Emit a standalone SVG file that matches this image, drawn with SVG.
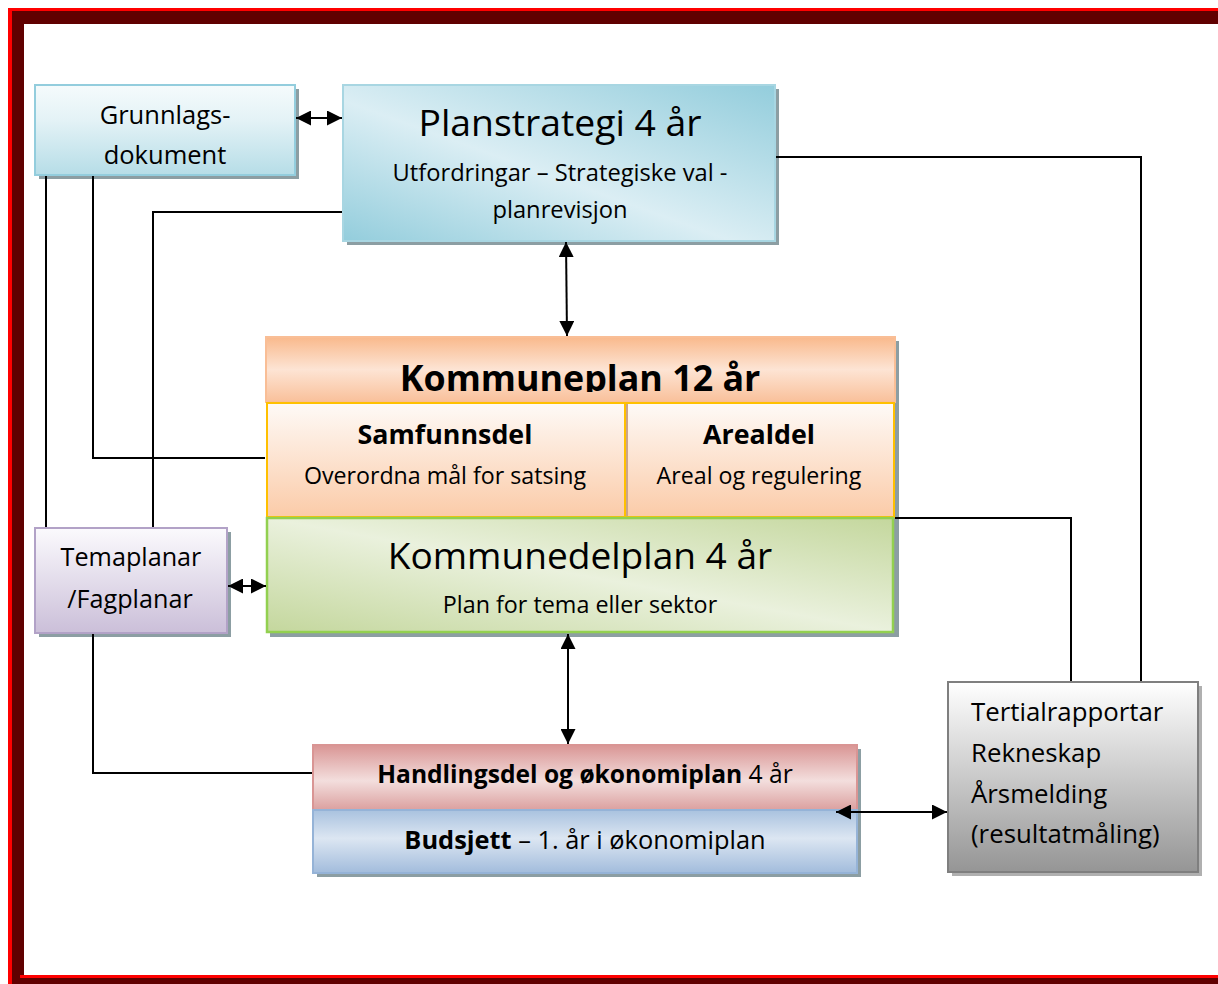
<svg xmlns="http://www.w3.org/2000/svg" width="1218" height="984" viewBox="0 0 1218 984">
<style>
  text { font-family: "Open Sans", Lato, sans-serif; fill: #000; }
  .c { text-anchor: middle; }
  .b { font-weight: bold; }
  .sh { fill: #8c9ea3; }
  .conn { stroke: #000; stroke-width: 2; fill: none; }
</style>
<defs>
  <marker id="ah" viewBox="0 0 10 10" refX="10" refY="5" markerWidth="15" markerHeight="15" markerUnits="userSpaceOnUse" orient="auto-start-reverse">
    <path d="M0,0 L10,5 L0,10 z" fill="#000"/>
  </marker>
  <linearGradient id="gGrund" x1="0" y1="0" x2="0" y2="1">
    <stop offset="0" stop-color="#f5fbfc"/>
    <stop offset="0.4" stop-color="#e3f2f6"/>
    <stop offset="1" stop-color="#b6dde7"/>
  </linearGradient>
  <linearGradient id="gPlan" x1="0" y1="1" x2="1" y2="0">
    <stop offset="0" stop-color="#93cddc"/>
    <stop offset="0.45" stop-color="#dbeef4"/>
    <stop offset="1" stop-color="#93cddc"/>
  </linearGradient>
  <linearGradient id="gKom" x1="0" y1="0" x2="0" y2="1">
    <stop offset="0" stop-color="#f9b98c"/>
    <stop offset="0.5" stop-color="#fde4d4"/>
    <stop offset="1" stop-color="#f9c09a"/>
  </linearGradient>
  <linearGradient id="gSam" x1="0" y1="0" x2="0" y2="1">
    <stop offset="0" stop-color="#fefaf7"/>
    <stop offset="1" stop-color="#fbcba8"/>
  </linearGradient>
  <linearGradient id="gDel" x1="0" y1="1" x2="1" y2="0">
    <stop offset="0" stop-color="#c4d79d"/>
    <stop offset="0.5" stop-color="#eaf1dd"/>
    <stop offset="1" stop-color="#c4d79d"/>
  </linearGradient>
  <linearGradient id="gTema" x1="0" y1="0" x2="0" y2="1">
    <stop offset="0" stop-color="#fbfafd"/>
    <stop offset="1" stop-color="#cbbfd9"/>
  </linearGradient>
  <linearGradient id="gHand" x1="0" y1="0" x2="0" y2="1">
    <stop offset="0" stop-color="#d99594"/>
    <stop offset="0.55" stop-color="#f3dedd"/>
    <stop offset="1" stop-color="#dba09f"/>
  </linearGradient>
  <linearGradient id="gBud" x1="0" y1="0" x2="0" y2="1">
    <stop offset="0" stop-color="#a9c2df"/>
    <stop offset="0.45" stop-color="#dce6f2"/>
    <stop offset="1" stop-color="#a2bcdc"/>
  </linearGradient>
  <linearGradient id="gTert" x1="0" y1="0" x2="0" y2="1">
    <stop offset="0" stop-color="#ffffff"/>
    <stop offset="1" stop-color="#959595"/>
  </linearGradient>
  <clipPath id="clipKom">
    <rect x="266" y="337" width="629" height="55"/>
  </clipPath>
</defs>

<!-- frame -->
<g id="frame">
  <rect x="0" y="0" width="1218" height="984" fill="#fff"/>
  <rect x="8" y="8" width="1210" height="976" fill="#600000"/>
  <rect x="8" y="8" width="1210" height="3" fill="#ff0000"/>
  <rect x="8" y="8" width="4" height="976" fill="#ff0000"/>
  <rect x="24" y="24" width="1194" height="951" fill="#fff"/>
  <rect x="20" y="975" width="1198" height="3" fill="#ff0000"/>
</g>

<g id="grunnlag">
  <rect class="sh" x="39" y="89" width="260" height="90"/>
  <rect x="35" y="85" width="260" height="90" fill="url(#gGrund)" stroke="#93cddd" stroke-width="2"/>
  <text class="c" x="165" y="124" font-size="25.5">Grunnlags-</text>
  <text class="c" x="165" y="164" font-size="25.5">dokument</text>
</g>

<g id="planstrategi">
  <rect class="sh" x="347" y="89" width="432" height="156"/>
  <rect x="343" y="85" width="432" height="156" fill="url(#gPlan)" stroke="#a8d6e2" stroke-width="2"/>
  <text class="c" x="560" y="136" font-size="37.3">Planstrategi 4 år</text>
  <text class="c" x="560" y="181" font-size="23.7">Utfordringar – Strategiske val -</text>
  <text class="c" x="560" y="218" font-size="23.7">planrevisjon</text>
</g>

<g id="kommuneplan">
  <rect class="sh" x="270" y="341" width="629" height="296"/>
  <rect x="266" y="337" width="629" height="65" fill="url(#gKom)" stroke="#f9be96" stroke-width="2"/>
  <text class="c b" x="580" y="391" font-size="35.8" clip-path="url(#clipKom)">Kommuneplan 12 år</text>
</g>

<g id="samfunnsdel">
  <rect x="267" y="403" width="358" height="114" fill="url(#gSam)" stroke="#ffc000" stroke-width="2"/>
  <text class="c b" x="445" y="444" font-size="26.8">Samfunnsdel</text>
  <text class="c" x="445" y="484" font-size="23.2">Overordna mål for satsing</text>
</g>

<g id="arealdel">
  <rect x="627" y="403" width="267" height="114" fill="url(#gSam)" stroke="#ffc000" stroke-width="2"/>
  <line x1="627" y1="404" x2="627" y2="516" stroke="#c9a48c" stroke-width="2"/>
  <text class="c b" x="759" y="444" font-size="26.8">Arealdel</text>
  <text class="c" x="759" y="484" font-size="23.2">Areal og regulering</text>
</g>

<g id="kommunedelplan">
  <rect x="267" y="518" width="626" height="114" fill="url(#gDel)" stroke="#92d050" stroke-width="2.5"/>
  <text class="c" x="580" y="569" font-size="37.1">Kommunedelplan 4 år</text>
  <text class="c" x="580" y="613" font-size="23.3">Plan for tema eller sektor</text>
</g>

<g id="temaplanar">
  <rect class="sh" x="39" y="532" width="192" height="105"/>
  <rect x="35" y="528" width="192" height="105" fill="url(#gTema)" stroke="#b2a2c7" stroke-width="2"/>
  <text class="c" x="131" y="566" font-size="25.2">Temaplanar</text>
  <text class="c" x="130" y="608" font-size="25.2">/Fagplanar</text>
</g>

<g id="handlingsdel">
  <rect class="sh" x="317" y="749" width="544" height="128"/>
  <rect x="313" y="745" width="544" height="65" fill="url(#gHand)" stroke="#d99594" stroke-width="2"/>
  <text class="c" x="585" y="783" font-size="24.6"><tspan class="b">Handlingsdel og økonomiplan</tspan> 4 år</text>
</g>

<g id="budsjett">
  <rect x="313" y="810" width="544" height="63" fill="url(#gBud)" stroke="#95b3d7" stroke-width="2"/>
  <text class="c" x="585" y="849" font-size="25.4"><tspan class="b">Budsjett</tspan> – 1. år i økonomiplan</text>
</g>

<g id="tertial">
  <rect x="952" y="686" width="250" height="190" fill="#b0b0b0"/>
  <rect x="948" y="682" width="250" height="190" fill="url(#gTert)" stroke="#7f7f7f" stroke-width="2"/>
  <text x="971" y="721" font-size="25.8">Tertialrapportar</text>
  <text x="971" y="762" font-size="25.8">Rekneskap</text>
  <text x="971" y="803" font-size="25.8">Årsmelding</text>
  <text x="971" y="843" font-size="25.8">(resultatmåling)</text>
</g>

<!-- connectors -->
<g id="connectors">
  <line class="conn" x1="296" y1="118" x2="342" y2="118" marker-start="url(#ah)" marker-end="url(#ah)"/>
  <polyline class="conn" points="46,176 46,527"/>
  <polyline class="conn" points="93,176 93,458 265,458"/>
  <polyline class="conn" points="342,212 153,212 153,527"/>
  <polyline class="conn" points="776,157 1141,157 1141,681"/>
  <polyline class="conn" points="895,518 1071,518 1071,681"/>
  <line class="conn" x1="566" y1="242" x2="567" y2="336" marker-start="url(#ah)" marker-end="url(#ah)"/>
  <line class="conn" x1="228" y1="586" x2="266" y2="586" marker-start="url(#ah)" marker-end="url(#ah)"/>
  <polyline class="conn" points="93,634 93,773 312,773"/>
  <line class="conn" x1="568" y1="634" x2="568" y2="744" marker-start="url(#ah)" marker-end="url(#ah)"/>
  <line class="conn" x1="836" y1="812" x2="947" y2="812" marker-start="url(#ah)" marker-end="url(#ah)"/>
</g>
</svg>
